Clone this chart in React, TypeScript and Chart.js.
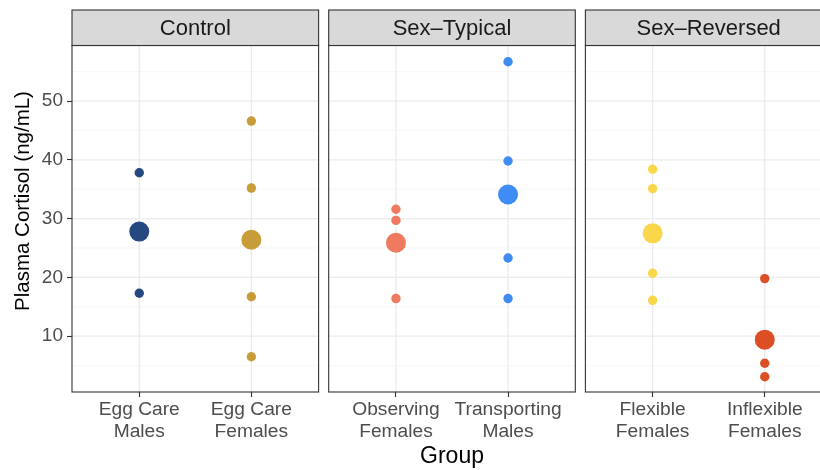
import React, { useEffect, useRef } from 'react';
import { Chart, registerables } from 'chart.js';

Chart.register(...registerables);

// ---------- data ----------
const panels = ['Control', 'Sex\u2013Typical', 'Sex\u2013Reversed'];
const groupLabels = [
  ['Egg Care', 'Males'],
  ['Egg Care', 'Females'],
  ['Observing', 'Females'],
  ['Transporting', 'Males'],
  ['Flexible', 'Females'],
  ['Inflexible', 'Females'],
];
const groupPanel = [0, 0, 1, 1, 2, 2];
const groupSlot = [0, 1, 0, 1, 0, 1];
const groupColors = ['#24487F', '#C99C3A', '#EF7A5F', '#3F8CF5', '#F9D64A', '#DC4F24'];
const groupMeans = [27.8, 26.4, 25.9, 34.1, 27.5, 9.4];
const groupValues = [
  [37.8, 17.3],
  [46.6, 35.2, 16.7, 6.5],
  [31.6, 29.7, 16.4],
  [56.7, 39.8, 23.3, 16.4],
  [38.4, 35.1, 20.7, 16.1],
  [19.8, 5.4, 3.1],
];
const yMajorTicks = [10, 20, 30, 40, 50];
const yMinorTicks = [5, 15, 25, 35, 45, 55];

// ---------- layout (x in facet units) ----------
const PANEL_W = 2.2;
const PANEL_STARTS = [0, 2.29, 4.58];
const SLOT_OFFSETS = [0.6, 1.6];
const STRIP_H = 35.5;
const FONT = '"Liberation Sans", Arial, Helvetica, sans-serif';

const groupX = (i: number) => PANEL_STARTS[groupPanel[i]] + SLOT_OFFSETS[groupSlot[i]];
const tickPositions = groupLabels.map((_, i) => groupX(i));

const facetPlugin = {
  id: 'facets',
  beforeDatasetsDraw(chart: any) {
    const { ctx, chartArea, scales } = chart;
    const xs = scales.x;
    const ys = scales.y;
    const top = chartArea.top + STRIP_H;
    const bottom = chartArea.bottom;
    ctx.save();
    PANEL_STARTS.forEach((s) => {
      const left = xs.getPixelForValue(s);
      const right = xs.getPixelForValue(s + PANEL_W);
      ctx.fillStyle = '#FFFFFF';
      ctx.fillRect(left, top, right - left, bottom - top);
      ctx.strokeStyle = '#F2F2F2';
      ctx.lineWidth = 0.6;
      yMinorTicks.forEach((v) => {
        const py = ys.getPixelForValue(v);
        ctx.beginPath();
        ctx.moveTo(left, py);
        ctx.lineTo(right, py);
        ctx.stroke();
      });
      ctx.strokeStyle = '#EBEBEB';
      ctx.lineWidth = 1.3;
      yMajorTicks.forEach((v) => {
        const py = ys.getPixelForValue(v);
        ctx.beginPath();
        ctx.moveTo(left, py);
        ctx.lineTo(right, py);
        ctx.stroke();
      });
      SLOT_OFFSETS.forEach((o) => {
        const px = xs.getPixelForValue(s + o);
        ctx.beginPath();
        ctx.moveTo(px, top);
        ctx.lineTo(px, bottom);
        ctx.stroke();
      });
    });
    ctx.restore();
  },
  afterDatasetsDraw(chart: any) {
    const { ctx, chartArea, scales } = chart;
    const xs = scales.x;
    const top = chartArea.top + STRIP_H;
    const bottom = chartArea.bottom;
    ctx.save();
    PANEL_STARTS.forEach((s, p) => {
      const left = xs.getPixelForValue(s);
      const right = xs.getPixelForValue(s + PANEL_W);
      ctx.lineWidth = 1.1;
      ctx.strokeStyle = '#333333';
      ctx.strokeRect(left, top, right - left, bottom - top);
      ctx.fillStyle = '#D9D9D9';
      ctx.fillRect(left, chartArea.top, right - left, STRIP_H);
      ctx.strokeRect(left, chartArea.top, right - left, STRIP_H);
      ctx.fillStyle = '#1A1A1A';
      ctx.font = `22px ${FONT}`;
      ctx.textAlign = 'center';
      ctx.textBaseline = 'middle';
      ctx.fillText(panels[p], (left + right) / 2, chartArea.top + STRIP_H / 2 + 1);
    });
    ctx.restore();
  },
};

export default function App() {
  const ref = useRef<HTMLCanvasElement | null>(null);

  useEffect(() => {
    if (!ref.current) return;
    Chart.defaults.font.family = FONT;
    const datasets: any[] = [];
    groupValues.forEach((vals, i) => {
      datasets.push({
        label: groupLabels[i].join(' '),
        data: vals.map((v) => ({ x: groupX(i), y: v })),
        pointRadius: 4.7,
        pointHoverRadius: 4.7,
        backgroundColor: groupColors[i],
        borderColor: groupColors[i],
        borderWidth: 0,
      });
      datasets.push({
        label: groupLabels[i].join(' ') + ' mean',
        data: [{ x: groupX(i), y: groupMeans[i] }],
        pointRadius: 10,
        pointHoverRadius: 10,
        backgroundColor: groupColors[i],
        borderColor: groupColors[i],
        borderWidth: 0,
      });
    });

    const chart = new Chart(ref.current, {
      type: 'scatter',
      data: { datasets },
      options: {
        animation: false,
        responsive: false,
        devicePixelRatio: 1,
        layout: { padding: { left: 11, right: 13, top: 8, bottom: 0 } },
        plugins: { legend: { display: false }, tooltip: { enabled: false } },
        scales: {
          x: {
            type: 'linear',
            min: 0,
            max: 6.78,
            afterBuildTicks: (scale: any) => {
              scale.ticks = tickPositions.map((v) => ({ value: v }));
            },
            afterFit: (scale: any) => {
              scale.height = 78;
              scale.paddingLeft = 0;
              scale.paddingRight = 0;
              scale.paddingTop = 0;
              scale.paddingBottom = 0;
            },
            grid: {
              drawOnChartArea: false,
              drawTicks: true,
              tickLength: 5,
              tickColor: '#333333',
              tickWidth: 1.1,
            },
            border: { display: false },
            ticks: {
              autoSkip: false,
              maxRotation: 0,
              minRotation: 0,
              padding: 2,
              color: '#4D4D4D',
              font: { size: 19.2, family: FONT, lineHeight: 1.15 },
              callback: (_v: any, idx: number) => groupLabels[idx],
            },
            title: {
              display: true,
              text: 'Group',
              color: '#000000',
              font: { size: 23, family: FONT },
              padding: 0,
            },
          },
          y: {
            type: 'linear',
            min: 0.5,
            max: 65.5,
            afterBuildTicks: (scale: any) => {
              scale.ticks = yMajorTicks.map((v) => ({ value: v }));
            },
            afterFit: (scale: any) => {
              scale.width = 61;
              scale.paddingLeft = 0;
              scale.paddingRight = 0;
              scale.paddingTop = 0;
              scale.paddingBottom = 0;
            },
            grid: {
              drawOnChartArea: false,
              drawTicks: true,
              tickLength: 5,
              tickColor: '#333333',
              tickWidth: 1.1,
            },
            border: { display: false },
            ticks: {
              padding: 4,
              color: '#4D4D4D',
              font: { size: 19, family: FONT },
              callback: (v: any) => String(v),
            },
            title: {
              display: true,
              text: 'Plasma Cortisol (ng/mL)',
              color: '#000000',
              font: { size: 20.5, family: FONT },
              padding: 0,
            },
          },
        },
      },
      plugins: [facetPlugin],
    });
    return () => chart.destroy();
  }, []);

  return (
    <div
      style={{
        position: 'absolute',
        left: 0,
        top: 0,
        width: 820,
        height: 470,
        overflow: 'hidden',
        background: '#FFFFFF',
      }}
    >
      <canvas ref={ref} width={845} height={470} style={{ display: 'block', width: 845, height: 470 }} />
    </div>
  );
}
